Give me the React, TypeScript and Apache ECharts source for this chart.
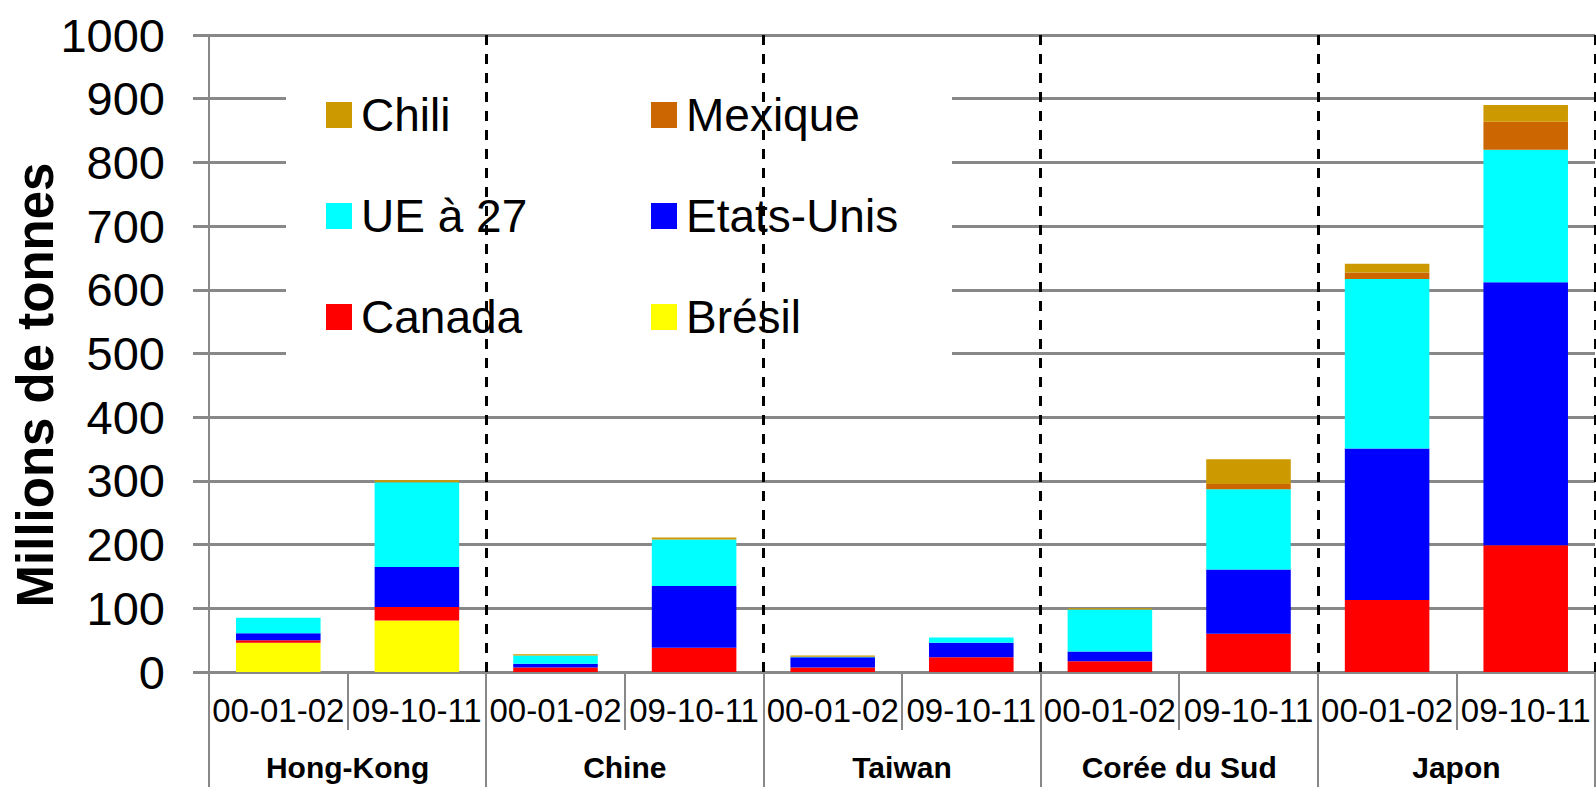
import React, { useEffect, useRef } from "react";
import * as echarts from "echarts";

const years = ["00-01-02", "09-10-11", "00-01-02", "09-10-11", "00-01-02", "09-10-11", "00-01-02", "09-10-11", "00-01-02", "09-10-11"];
const countries = ["Hong-Kong", "Chine", "Taiwan", "Corée du Sud", "Japon"];
const yTicks = [0, 1000, 100];

const bresil = [46, 81, 0, 0, 0, 0, 0, 0, 0, 0];
const canada = [4, 21, 7, 38, 7, 23, 17, 60, 113, 199];
const etatsUnis = [11, 63, 6, 97, 16, 23, 15, 101, 238, 413];
const ue27 = [24, 133, 13, 73, 1, 8, 66, 126, 266, 208];
const mexique = [0, 0, 0, 0, 0, 0, 0, 8, 10, 44];
const chili = [0, 3, 2, 3, 2, 0, 2, 39, 14, 26];

const seriesDefs = [
  { name: "Brésil", data: bresil, color: "#FFFF00" },
  { name: "Canada", data: canada, color: "#FF0000" },
  { name: "Etats-Unis", data: etatsUnis, color: "#0000FF" },
  { name: "UE à 27", data: ue27, color: "#00FFFF" },
  { name: "Mexique", data: mexique, color: "#CC6600" },
  { name: "Chili", data: chili, color: "#CC9900" },
];

const legendLayout = [
  { name: "Chili", left: 326, top: 92 },
  { name: "Mexique", left: 651, top: 92 },
  { name: "UE à 27", left: 326, top: 193 },
  { name: "Etats-Unis", left: 651, top: 193 },
  { name: "Canada", left: 326, top: 294 },
  { name: "Brésil", left: 651, top: 294 },
];

const FONT = "'Liberation Sans', Arial, sans-serif";
const GRAY = "#888888";

export default function App() {
  const ref = useRef<HTMLDivElement>(null);
  useEffect(() => {
    if (!ref.current) return;
    const chart = echarts.init(ref.current, null, { renderer: "svg" });
    chart.setOption({
      animation: false,
      backgroundColor: "#ffffff",
      textStyle: { fontFamily: FONT, color: "#000" },
      grid: { left: 209, right: 1, top: 35, bottom: 115, containLabel: false, outerBoundsMode: "none" },
      legend: legendLayout.map((l) => ({
        data: [l.name],
        left: l.left,
        top: l.top,
        padding: 0,
        icon: "rect",
        itemWidth: 26,
        itemHeight: 26,
        selectedMode: false,
        z: 6,
        textStyle: { fontFamily: FONT, fontSize: 46, lineHeight: 46, color: "#000", padding: [0, 0, 0, 4] },
      })),
      graphic: [
        {
          type: "rect",
          z: 3,
          shape: { x: 286, y: 66, width: 666, height: 298 },
          style: { fill: "#ffffff" },
        },
      ],
      xAxis: [
        {
          type: "category",
          data: years,
          position: "bottom",
          axisLine: { show: true, lineStyle: { color: GRAY, width: 3 } },
          axisTick: { show: true, length: 58, interval: 0, lineStyle: { color: GRAY, width: 2 } },
          axisLabel: { interval: 0, fontSize: 33, fontFamily: FONT, color: "#000", margin: 22 },
          splitLine: { show: false },
        },
        {
          type: "category",
          data: countries,
          position: "bottom",
          offset: 0,
          z: 10,
          axisLine: { show: false },
          axisTick: { show: true, length: 120, interval: 0, lineStyle: { color: GRAY, width: 2 } },
          axisLabel: { interval: 0, fontSize: 30, fontWeight: "bold", fontFamily: FONT, color: "#000", margin: 80 },
          splitLine: {
            show: true,
            interval: (index: number) => index > 0,
            lineStyle: { color: "#000", width: 3, type: [10, 9] },
          },
        },
      ],
      yAxis: {
        type: "value",
        min: yTicks[0],
        max: yTicks[1],
        interval: yTicks[2],
        name: "Millions de tonnes",
        nameLocation: "middle",
        nameRotate: 90,
        nameGap: 148,
        nameMoveOverlap: false,
        nameTextStyle: { fontSize: 51, fontWeight: "bold", fontFamily: FONT, color: "#000", padding: [0, 63, 0, 0] },
        axisLine: { show: true, lineStyle: { color: GRAY, width: 2 } },
        axisTick: { show: true, length: 16, lineStyle: { color: GRAY, width: 3 } },
        axisLabel: {
          fontSize: 47,
          fontFamily: FONT,
          color: "#000",
          margin: 44,
          formatter: (v: number) => String(v),
        },
        splitLine: { show: true, lineStyle: { color: GRAY, width: 3 } },
      },
      series: seriesDefs.map((s) => ({
        name: s.name,
        type: "bar",
        stack: "total",
        xAxisIndex: 0,
        barCategoryGap: "39%",
        data: s.data,
        itemStyle: { color: s.color },
      })),
    });
    return () => chart.dispose();
  }, []);
  return (
    <div
      ref={ref}
      style={{ position: "fixed", left: 0, top: 0, width: 1596, height: 787, background: "#fff" }}
    />
  );
}
